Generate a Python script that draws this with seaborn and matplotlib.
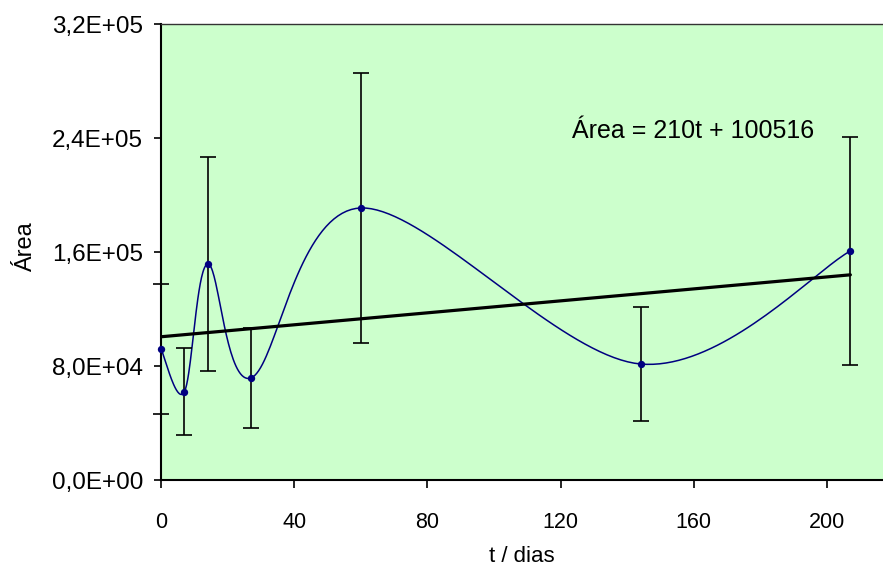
import numpy as np
import pandas as pd
import matplotlib
matplotlib.use("Agg")
import matplotlib.pyplot as plt
import seaborn as sns

# ---- data ----
t_days = [0, 7, 14, 27, 60, 144, 207]
area = [91900, 61800, 151600, 71600, 190900, 81400, 160700]
area_err = [45500, 30500, 75000, 35300, 95000, 40000, 80000]
slope = 210
intercept = 100516
y_ticks = [0, 80000, 160000, 240000, 320000]
y_tick_labels = ["0,0E+00", "8,0E+04", "1,6E+05", "2,4E+05", "3,2E+05"]
x_ticks = [0, 40, 80, 120, 160, 200]
equation = "Área = 210t + 100516"

sns.set_theme(style="white")
plt.rcParams['font.family'] = ['Liberation Sans', 'DejaVu Sans']
plt.rcParams['text.color'] = 'black'
plt.rcParams['axes.labelcolor'] = 'black'
plt.rcParams['xtick.color'] = 'black'
plt.rcParams['ytick.color'] = 'black'


def excel_smooth(x, y, n=40):
    x = np.asarray(x, float)
    y = np.asarray(y, float)
    px = np.concatenate([[x[0]], x, [x[-1]]])
    py = np.concatenate([[y[0]], y, [y[-1]]])
    xs, ys = [], []
    s = np.linspace(0, 1, n)
    for i in range(len(x) - 1):
        p0 = np.array([px[i + 1], py[i + 1]])
        p3 = np.array([px[i + 2], py[i + 2]])
        c1 = p0 + (np.array([px[i + 2], py[i + 2]]) - np.array([px[i], py[i]])) / 6
        c2 = p3 - (np.array([px[i + 3], py[i + 3]]) - np.array([px[i + 1], py[i + 1]])) / 6
        b = ((1 - s) ** 3)[:, None] * p0 + (3 * (1 - s) ** 2 * s)[:, None] * c1 \
            + (3 * (1 - s) * s ** 2)[:, None] * c2 + (s ** 3)[:, None] * p3
        xs.extend(b[:, 0])
        ys.extend(b[:, 1])
    return np.array(xs), np.array(ys)


fig = plt.figure(figsize=(8.83, 5.70), dpi=100)
ax = fig.add_axes([161 / 883, 90 / 570, 722 / 883, 456 / 570])
ax.set_facecolor("#CCFFCC")

sx, sy = excel_smooth(t_days, area)
smooth_df = pd.DataFrame({"t": sx, "area": sy})
sns.lineplot(data=smooth_df, x="t", y="area", sort=False, estimator=None,
             color="#000080", linewidth=1.1, ax=ax)

trend_t = np.array([t_days[0], t_days[-1]], float)
trend_df = pd.DataFrame({"t": trend_t, "area": slope * trend_t + intercept})
sns.lineplot(data=trend_df, x="t", y="area", color="black", linewidth=2.3, ax=ax)

ax.errorbar(t_days, area, yerr=area_err, fmt="none", ecolor="black",
            elinewidth=1.2, capsize=6, capthick=1.2, clip_on=False, zorder=3)

pts = pd.DataFrame({"t": t_days, "area": area})
sns.scatterplot(data=pts, x="t", y="area", color="#000080", s=28,
                edgecolor="#000080", linewidth=0, ax=ax, zorder=4, clip_on=False)

ax.set_xlim(0, 216.8)
ax.set_ylim(0, 320000)
ax.set_xticks(x_ticks)
ax.set_xticklabels([str(v) for v in x_ticks])
ax.set_yticks(y_ticks)
ax.set_yticklabels(y_tick_labels)

ax.tick_params(axis="y", which="major", direction="out", length=5, width=1.2,
               color="black", labelcolor="black", labelsize=17.5, pad=8, left=True)
ax.tick_params(axis="x", which="major", direction="out", length=6, width=1.2,
               color="black", labelcolor="black", labelsize=15.5, pad=17, bottom=True)

for side in ["left", "bottom"]:
    ax.spines[side].set_color("black")
    ax.spines[side].set_linewidth(1.5)
ax.spines["top"].set_color("#333333")
ax.spines["top"].set_linewidth(1.0)
ax.spines["right"].set_visible(False)

ax.set_xlabel("t / dias", fontsize=16, color="black")
ax.set_ylabel("Área", fontsize=17, color="black")
ax.xaxis.set_label_coords(0.5, -0.145)
ax.yaxis.set_label_coords(-0.172, 0.51)

ax.text(123.5, 240000, equation, fontsize=18, ha="left", va="baseline",
        color="black")

fig.savefig("out.png", dpi=100)
